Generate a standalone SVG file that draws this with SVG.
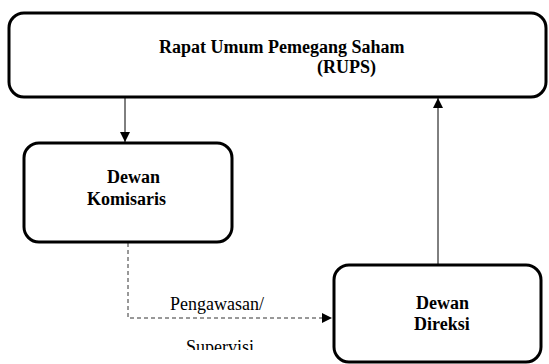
<svg xmlns="http://www.w3.org/2000/svg" width="549" height="364" viewBox="0 0 549 364">
<style>
.box{fill:#fff;stroke:#000;stroke-width:3}
text{font-family:'Liberation Serif','Times New Roman',serif;font-size:18px;fill:#000}
.b{font-weight:bold}
.ln{fill:none;stroke:#000;stroke-width:1}
.dash{fill:none;stroke:#333;stroke-width:1;stroke-dasharray:4 3}
</style>
<defs>
<marker id="ah" viewBox="0 0 10 10" refX="10" refY="5" markerWidth="10" markerHeight="10" markerUnits="userSpaceOnUse" orient="auto">
<path d="M0,0 L10,5 L0,10 Z" fill="#000"/>
</marker>
<clipPath id="clipSup"><rect x="0" y="0" width="549" height="350"/></clipPath>
</defs>
<rect width="549" height="364" fill="#fff"/>
<g id="connectors">
<line class="ln" x1="125" y1="97" x2="125" y2="142" marker-end="url(#ah)"/>
<line class="ln" x1="438" y1="264" x2="438" y2="98" marker-end="url(#ah)"/>
<polyline class="dash" points="128,243 128,318 332,318" marker-end="url(#ah)"/>
<text x="170" y="310">Pengawasan/</text>
<text x="186" y="353" clip-path="url(#clipSup)">Supervisi</text>
</g>
<g id="rups">
<rect class="box" x="9" y="13" width="537" height="84" rx="15"/>
<text class="b" x="159" y="53">Rapat Umum Pemegang Saham</text>
<text class="b" x="317" y="73">(RUPS)</text>
</g>
<g id="komisaris">
<rect class="box" x="24" y="143" width="208" height="99" rx="15"/>
<text class="b" x="107" y="183">Dewan</text>
<text class="b" x="87" y="205">Komisaris</text>
</g>
<g id="direksi">
<rect class="box" x="334" y="265" width="207" height="97" rx="15"/>
<text class="b" x="416" y="309">Dewan</text>
<text class="b" x="414" y="330">Direksi</text>
</g>
</svg>
